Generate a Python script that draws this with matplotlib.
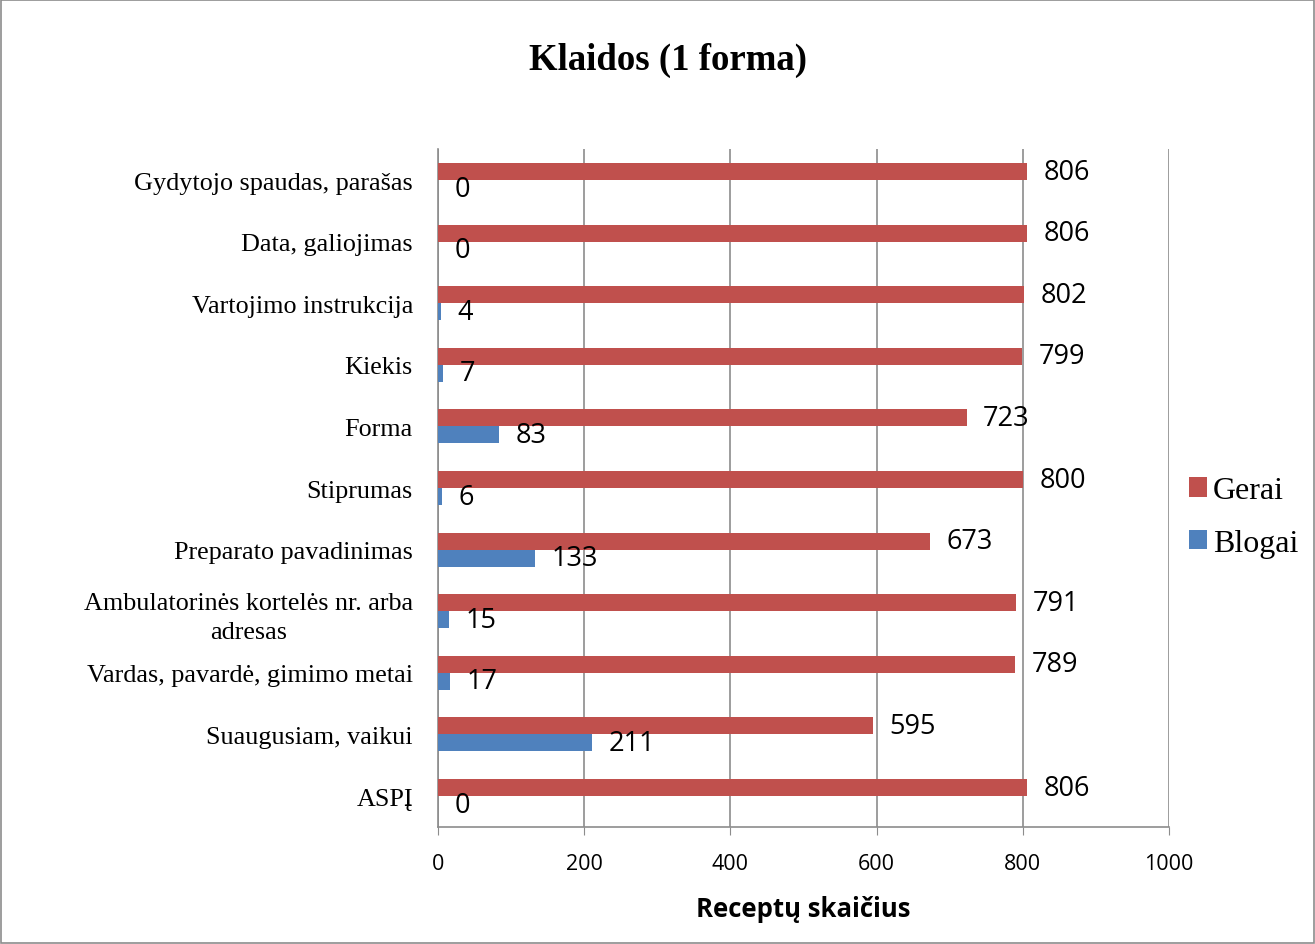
import matplotlib.pyplot as plt
import numpy as np

categories = ['Gydytojo spaudas, parašas', 'Data, galiojimas', 'Vartojimo instrukcija',
              'Kiekis', 'Forma', 'Stiprumas', 'Preparato pavadinimas',
              'Ambulatorinės kortelės nr. arba\nadresas', 'Vardas, pavardė, gimimo metai',
              'Suaugusiam, vaikui', 'ASPĮ']
gerai = [806, 806, 802, 799, 723, 800, 673, 791, 789, 595, 806]
blogai = [0, 0, 4, 7, 83, 6, 133, 15, 17, 211, 0]
xticks = [0, 200, 400, 600, 800, 1000]

red = '#C0504D'
blue = '#4F81BD'
serif = 'Liberation Serif'
sans = 'Open Sans'

fig = plt.figure(figsize=(13.15, 9.45), dpi=100)
fig.patches.append(plt.Rectangle((0.001, 0.001), 0.998, 0.998, transform=fig.transFigure,
                                 fill=False, edgecolor='#8c8c8c', linewidth=1.2))
ax = fig.add_axes([0.333, 0.124, 0.556, 0.717])

y = np.arange(len(categories))
h = 0.276
ax.barh(y - h / 2, gerai, height=h, color=red, label='Gerai', zorder=3)
ax.barh(y + h / 2, blogai, height=h, color=blue, label='Blogai', zorder=3)

for yi, g, b in zip(y, gerai, blogai):
    ax.annotate(str(g), (g, yi - h / 2), xytext=(12, 0), textcoords='offset points',
                va='center', ha='left', fontsize=19.5, family=sans)
    ax.annotate(str(b), (b, yi + h / 2), xytext=(12, 0), textcoords='offset points',
                va='center', ha='left', fontsize=19.5, family=sans)

ax.set_ylim(len(categories) - 0.5, -0.5)
ax.set_xlim(0, 1000)
ax.set_xticks(xticks)
ax.set_xticklabels([str(t) for t in xticks], family=sans, fontsize=15.5)
ax.set_yticks(y)
ax.set_yticklabels(categories, family=serif, fontsize=18.8, linespacing=1.4)
for lbl in ax.get_yticklabels():
    lbl.set_multialignment('center')
ax.tick_params(axis='y', length=0, pad=18)
ax.tick_params(axis='x', length=6, color='#8c8c8c', pad=13)
ax.xaxis.grid(True, color='#8c8c8c', linewidth=1.2, zorder=0)
for s in ['top', 'right']:
    ax.spines[s].set_visible(False)
for s in ['left', 'bottom']:
    ax.spines[s].set_color('#8c8c8c')
    ax.spines[s].set_linewidth(1.2)

ax.set_xlabel('Receptų skaičius', family=sans, fontsize=18.5, fontweight='bold', labelpad=15)
fig.suptitle('Klaidos (1 forma)', x=0.508, y=0.955, family=serif, fontsize=26.5, fontweight='bold')

leg = ax.legend(loc='center left', bbox_to_anchor=(0.997, 0.457), frameon=False,
                prop={'family': serif, 'size': 23}, handlelength=0.55, handleheight=0.55,
                handletextpad=0.2, labelspacing=0.75, borderaxespad=0.3)

fig.savefig('out.png', dpi=100)
